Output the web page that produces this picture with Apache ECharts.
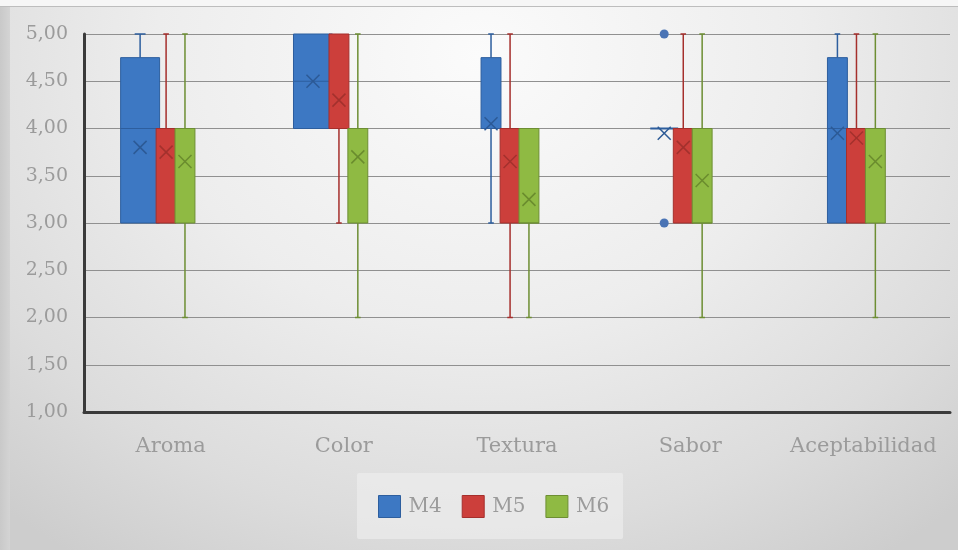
<!DOCTYPE html>
<html>
<head>
<meta charset="utf-8">
<script src="https://cdn.jsdelivr.net/npm/echarts@6/dist/echarts.min.js"></script>
<style>
  html, body { margin: 0; padding: 0; }
  #wrap {
    position: relative; width: 958px; height: 550px;
    background:
      linear-gradient(#f6f6f6, #f6f6f6) 0 0 / 100% 6px no-repeat,
      linear-gradient(#bdbdbd, #bdbdbd) 0 6px / 100% 1px no-repeat,
      linear-gradient(to right, #c9c9c9, #d4d4d4) 0 0 / 10px 100% no-repeat,
      radial-gradient(ellipse 75% 110% at 50% 10%, #fbfbfb 0%, #ededed 45%, #dcdcdc 78%, #cdcdcd 100%);
  }
  #chart { position: absolute; left: 0; top: 0; width: 958px; height: 550px; }
</style>
</head>
<body>
<div id="wrap"><div id="chart"></div></div>
<script>
// Sensory panel scores, 1–5 scale
const categories = ['Aroma', 'Color', 'Textura', 'Sabor', 'Aceptabilidad'];

// Five-number summaries per attribute: [min, Q1, median, Q3, max]
const m4Box = [[3, 3, 4, 4.75, 5], [4, 4, 4.5, 5, 5], [3, 4, 4, 4.75, 5], [4, 4, 4, 4, 4], [3, 3, 4, 4.75, 5]];
const m5Box = [[3, 3, 4, 4, 5], [3, 4, 4, 5, 5], [2, 3, 4, 4, 5], [3, 3, 4, 4, 5], [3, 3, 4, 4, 5]];
const m6Box = [[2, 3, 4, 4, 5], [2, 3, 4, 4, 5], [2, 3, 3, 4, 4], [2, 3, 3, 4, 5], [2, 3, 4, 4, 5]];

// Mean score per attribute
const m4Mean = [3.8, 4.5, 4.05, 3.95, 3.95];
const m5Mean = [3.75, 4.3, 3.65, 3.8, 3.9];
const m6Mean = [3.65, 3.7, 3.25, 3.45, 3.65];

// Outlying individual scores: [attribute, score]
const m4Outliers = [['Sabor', 5], ['Sabor', 3]];
const m5Outliers = [];
const m6Outliers = [];

// Value axis
const yMin = 1, yMax = 5, yStep = 0.5;

const FONT = 'DejaVu Serif';
const TEXT = '#9b9b9b';

// Drawing style of each sample (offsets/widths as a fraction of the category band)
const samples = [
  { name: 'M4', box: m4Box, mean: m4Mean, out: m4Outliers,
    fill: '#3d78c3', stroke: '#2d5e9e', mark: '#2c5a96',
    offset: -0.150, wideAt: [0, 1], wideOffset: -0.190, wideWidth: 0.225 },
  { name: 'M5', box: m5Box, mean: m5Mean, out: m5Outliers,
    fill: '#cc3f3b', stroke: '#a52f2c', mark: '#a3312d',
    offset: -0.040, wideAt: [], wideOffset: 0, wideWidth: 0 },
  { name: 'M6', box: m6Box, mean: m6Mean, out: m6Outliers,
    fill: '#8fba43', stroke: '#6d8e33', mark: '#6a8c2e',
    offset: 0.069, wideAt: [], wideOffset: 0, wideWidth: 0 }
];
const BOX_W = 0.115;
// the first two attribute groups sit slightly further right
const groupShift = [0.014, 0.012, 0, 0, 0];

function geometry(s, api, i) {
  const band = api.size([1, 0])[0];
  const wide = s.wideAt.indexOf(i) >= 0;
  const w = band * (wide ? s.wideWidth : BOX_W);
  const cx = api.coord([i, yMin])[0] + band * ((wide ? s.wideOffset : s.offset) + groupShift[i]);
  return { w, cx };
}

function boxRenderer(s) {
  return function (params, api) {
    const i = api.value(0);
    const lo = api.value(1), q1 = api.value(2), med = api.value(3),
          q3 = api.value(4), hi = api.value(5), mean = api.value(6);
    const { w, cx } = geometry(s, api, i);
    const y = v => api.coord([i, v])[1];
    const cap = w * 0.14;
    const line = (x1, y1, x2, y2, color, lw) => ({
      type: 'line', shape: { x1, y1, x2, y2 },
      style: { stroke: color, lineWidth: lw }
    });
    const kids = [];
    // whiskers with end caps
    if (hi > q3) {
      kids.push(line(cx, y(q3), cx, y(hi), s.stroke, 1.5));
      kids.push(line(cx - cap, y(hi), cx + cap, y(hi), s.stroke, 1.5));
    }
    if (lo < q1) {
      kids.push(line(cx, y(q1), cx, y(lo), s.stroke, 1.5));
      kids.push(line(cx - cap, y(lo), cx + cap, y(lo), s.stroke, 1.5));
    }
    // interquartile box and median
    if (q3 > q1) {
      kids.push({
        type: 'rect',
        shape: { x: cx - w / 2, y: y(q3), width: w, height: y(q1) - y(q3) },
        style: { fill: s.fill, stroke: s.stroke, lineWidth: 1 }
      });
      kids.push(line(cx - w / 2, y(med), cx + w / 2, y(med), s.stroke, 1));
    } else {
      kids.push(line(cx - w / 2 - 4, y(med), cx + w / 2 + 4, y(med), s.stroke, 2));
    }
    // mean marker
    const my = y(mean), m = 6.5;
    kids.push(line(cx - m, my - m, cx + m, my + m, s.mark, 1.5));
    kids.push(line(cx - m, my + m, cx + m, my - m, s.mark, 1.5));
    return { type: 'group', children: kids };
  };
}

function outlierRenderer(s) {
  return function (params, api) {
    const i = api.value(0);
    const { cx } = geometry(s, api, i);
    const p = api.coord([i, api.value(1)]);
    return {
      type: 'circle', shape: { cx, cy: p[1], r: 4.5 },
      style: { fill: '#4a74b5' }
    };
  };
}

const series = [];
samples.forEach(s => {
  series.push({
    name: s.name, type: 'custom',
    itemStyle: { color: s.fill },
    renderItem: boxRenderer(s),
    encode: { x: 0, y: [1, 2, 3, 4, 5, 6] },
    data: categories.map((c, i) => [i].concat(s.box[i], [s.mean[i]])),
    z: 3
  });
  if (s.out.length) {
    series.push({
      name: s.name, type: 'custom',
      itemStyle: { color: s.fill },
      renderItem: outlierRenderer(s),
      encode: { x: 0, y: 1 },
      data: s.out.map(o => [categories.indexOf(o[0]), o[1]]),
      z: 4
    });
  }
});

const chart = echarts.init(document.getElementById('chart'), null, { renderer: 'canvas' });
chart.setOption({
  backgroundColor: 'transparent',
  animation: false,
  textStyle: { fontFamily: FONT },
  grid: { left: 84, right: 8, top: 34, bottom: 138, containLabel: false },
  legend: {
    left: 357, top: 473,
    width: 265,
    padding: [22, 14, 21, 21],
    itemGap: 20,
    itemWidth: 22, itemHeight: 22,
    icon: 'rect',
    backgroundColor: 'rgba(236,236,236,0.7)',
    borderRadius: 2,
    textStyle: { fontFamily: FONT, fontSize: 20, color: TEXT, padding: [0, 0, 0, 3] },
    data: samples.map(s => ({ name: s.name, itemStyle: { color: s.fill, borderColor: s.stroke, borderWidth: 1 } }))
  },
  xAxis: {
    type: 'category',
    data: categories,
    boundaryGap: true,
    axisLine: { lineStyle: { color: '#3a3a3a', width: 3 } },
    axisTick: { show: false },
    axisLabel: { interval: 0, hideOverlap: false, fontFamily: FONT, fontSize: 21, color: TEXT, margin: 24 },
    splitLine: { show: false }
  },
  yAxis: {
    type: 'value',
    min: yMin, max: yMax, interval: yStep,
    axisLine: { show: true, lineStyle: { color: '#3a3a3a', width: 3 } },
    axisTick: { show: false },
    axisLabel: {
      fontFamily: FONT, fontSize: 19, color: TEXT, margin: 16,
      formatter: v => v.toFixed(2).replace('.', ',')
    },
    splitLine: { lineStyle: { color: '#909090', width: 1 } }
  },
  series: series
});
</script>
</body>
</html>
